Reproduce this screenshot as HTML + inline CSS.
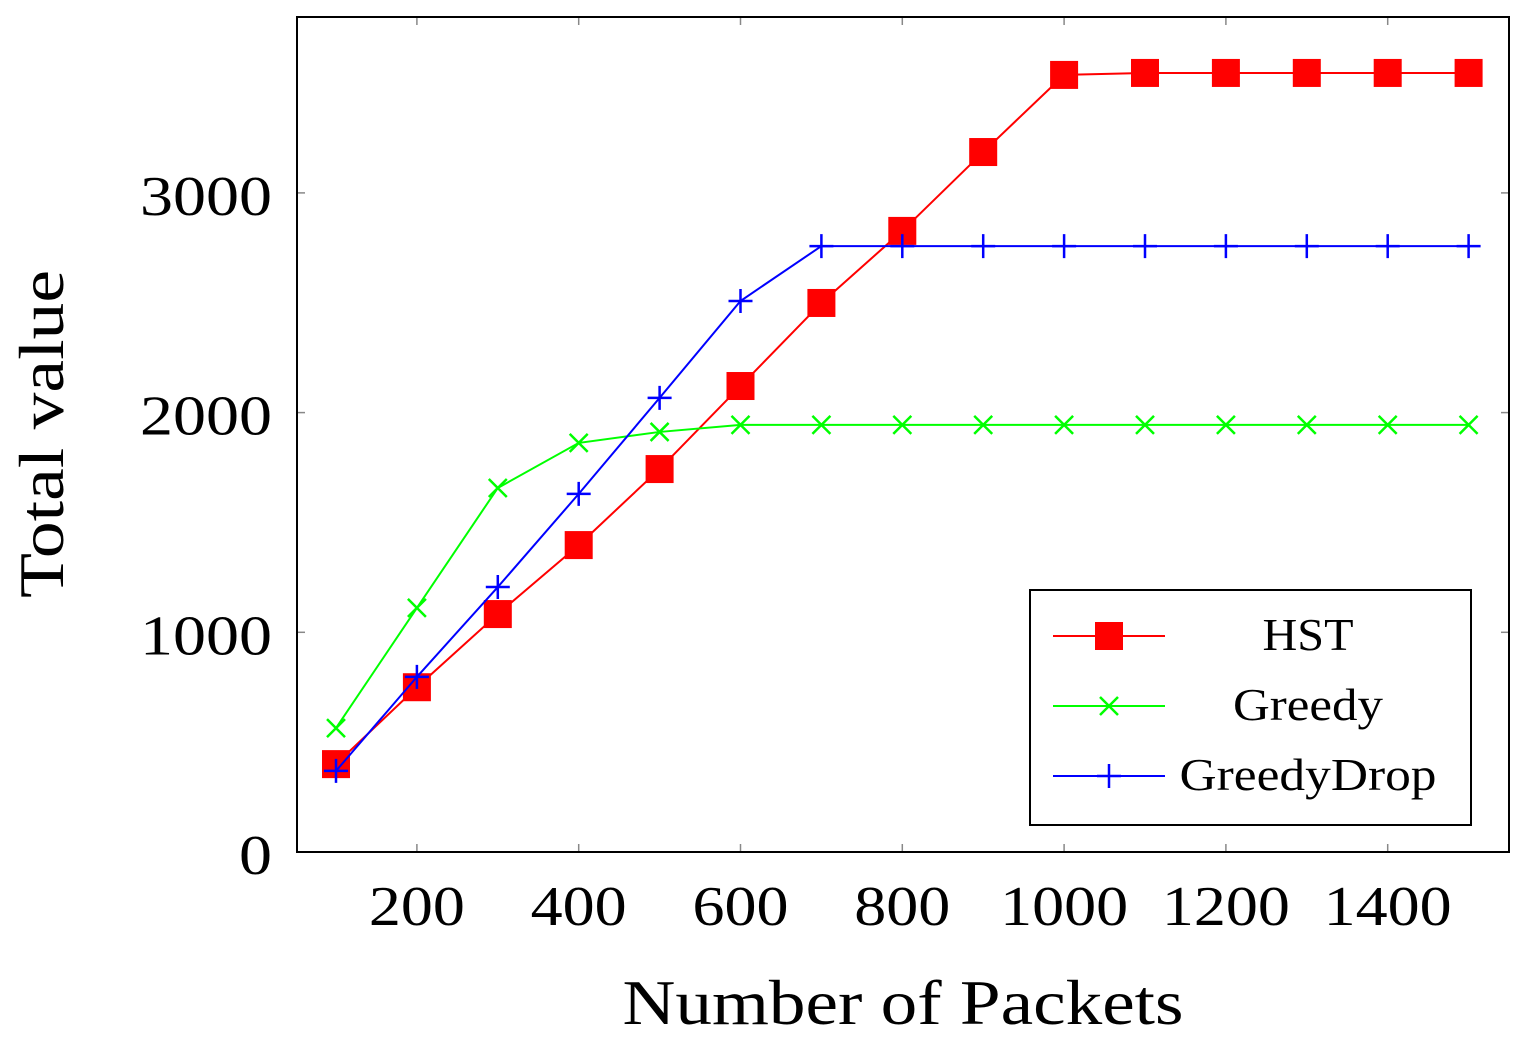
<!DOCTYPE html>
<html><head><meta charset="utf-8"><style>
body{margin:0;background:#fff;}
svg text{font-family:"Liberation Serif",serif;fill:#000;}
</style></head><body>
<svg id="chart" width="1526" height="1046" xmlns="http://www.w3.org/2000/svg"></svg>
<script>
const categories=[100,200,300,400,500,600,700,800,900,1000,1100,1200,1300,1400,1500];
const hstValues=[400,750,1083,1397,1743,2121,2499,2827,3186,3537,3546,3546,3546,3546,3546];
const greedyValues=[564,1111,1657,1862,1912,1944,1944,1944,1944,1944,1944,1944,1944,1944,1944];
const greedyDropValues=[369,797,1206,1630,2067,2508,2758,2758,2758,2758,2758,2758,2758,2758,2758];
const xTicks=[200,400,600,800,1000,1200,1400];
const yTicks=[0,1000,2000,3000];

const L=297,R=1509,T=17,B=852;
const xs=v=>336+(v-100)*0.809;
const ys=v=>852-v*0.2197;
const svg=document.getElementById('chart');
const NS='http://www.w3.org/2000/svg';
function mk(tag,attrs,parent){const e=document.createElementNS(NS,tag);for(const k in attrs)e.setAttribute(k,attrs[k]);(parent||svg).appendChild(e);return e;}

const ax=mk('g',{});


xTicks.forEach(t=>{
  mk('line',{x1:xs(t),x2:xs(t),y1:B,y2:B-8,stroke:'#888','stroke-width':1.5},ax);
  mk('line',{x1:xs(t),x2:xs(t),y1:T,y2:T+8,stroke:'#888','stroke-width':1.5},ax);
  const s=String(t);
  const tx=mk('text',{x:xs(t),y:925,'font-size':56,'text-anchor':'middle',textLength:32*s.length,lengthAdjust:'spacingAndGlyphs'},ax);
  
  
  tx.textContent=s;
});
yTicks.forEach(t=>{
  mk('line',{x1:L,x2:L+8,y1:ys(t),y2:ys(t),stroke:'#888','stroke-width':1.5},ax);
  mk('line',{x1:R,x2:R-8,y1:ys(t),y2:ys(t),stroke:'#888','stroke-width':1.5},ax);
  const s=String(t);
  const tx=mk('text',{x:272,y:ys(t)+22,'font-size':56,'text-anchor':'end',textLength:33*s.length,lengthAdjust:'spacingAndGlyphs'},ax);
  
  
  tx.textContent=s;
});
mk('rect',{x:L,y:T,width:R-L,height:B-T,fill:'none',stroke:'#000','stroke-width':2},ax);
const xt=mk('text',{x:903,y:1024,'font-size':64,'text-anchor':'middle',textLength:561,lengthAdjust:'spacingAndGlyphs'});


xt.textContent='Number of Packets';
const yt=mk('text',{x:0,y:0,'font-size':64,'text-anchor':'middle',textLength:328,lengthAdjust:'spacingAndGlyphs',transform:'translate(63,434) rotate(-90)'});


yt.textContent='Total value';

function marker(g,type,x,y,color){
  if(type==='sq')mk('rect',{x:x-14,y:y-14,width:28,height:28,fill:color},g);
  else if(type==='x'){mk('path',{d:`M${x-9} ${y-9}L${x+9} ${y+9}M${x-9} ${y+9}L${x+9} ${y-9}`,stroke:color,'stroke-width':2.5},g);}
  else {mk('path',{d:`M${x-12} ${y}L${x+12} ${y}M${x} ${y-12}L${x} ${y+12}`,stroke:color,'stroke-width':2.5},g);}
}
function series(vals,color,type,name){
  const g=mk('g',{});
  
  
  mk('polyline',{points:vals.map((v,i)=>xs(categories[i])+','+ys(v)).join(' '),fill:'none',stroke:color,'stroke-width':2},g);
  vals.forEach((v,i)=>marker(g,type,xs(categories[i]),ys(v),color));
}
series(hstValues,'#ff0000','sq','series-hst');
series(greedyValues,'#00ff00','x','series-greedy');
series(greedyDropValues,'#0000ff','+','series-greedydrop');

const lg=mk('g',{});


mk('rect',{x:1030,y:590,width:441,height:235,fill:'#fff',stroke:'#000','stroke-width':2},lg);
[['HST','#ff0000','sq',636,91],['Greedy','#00ff00','x',706,150],['GreedyDrop','#0000ff','+',776,257]].forEach(e=>{
  const g=mk('g',{},lg);
  
  
  mk('line',{x1:1053,x2:1165,y1:e[3],y2:e[3],stroke:e[1],'stroke-width':2},g);
  marker(g,e[2],1109,e[3],e[1]);
  const t=mk('text',{x:1308,y:e[3]+14,'font-size':46,'text-anchor':'middle',textLength:e[4],lengthAdjust:'spacingAndGlyphs'},g);
  t.textContent=e[0];
});
</script>
</body></html>
